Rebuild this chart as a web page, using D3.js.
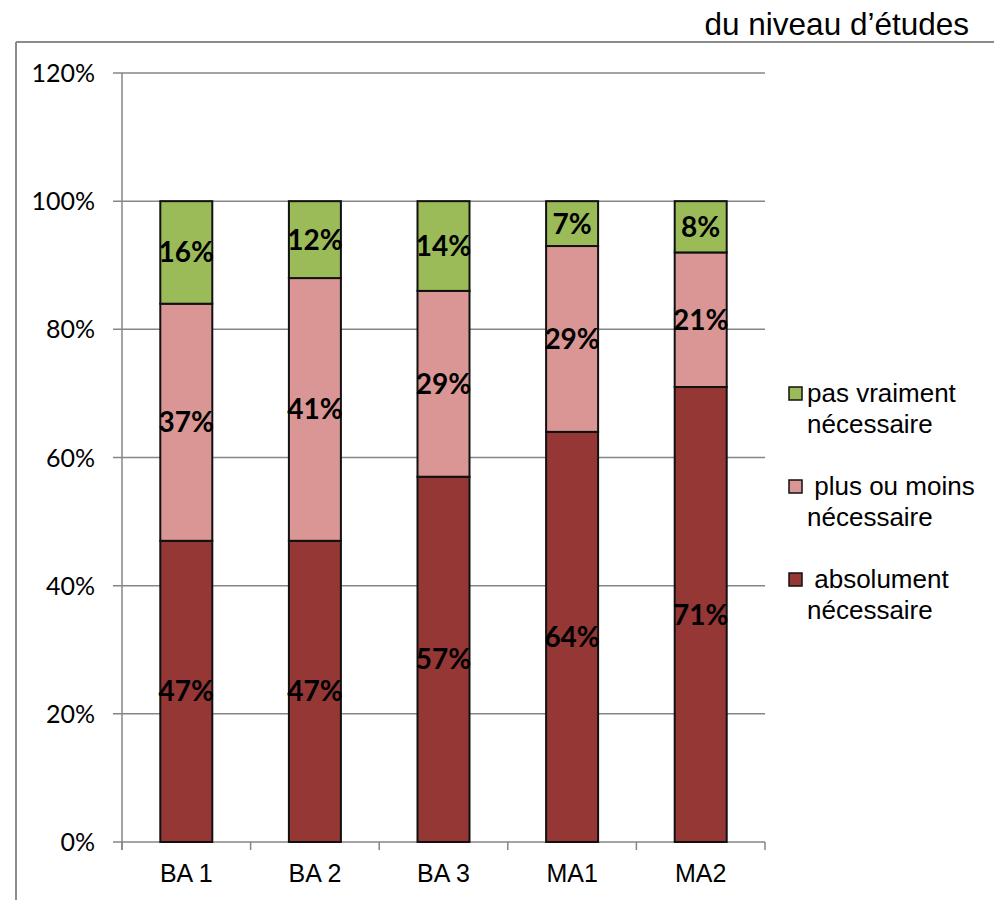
<!DOCTYPE html>
<html>
<head>
<meta charset="utf-8">
<script src="https://cdn.jsdelivr.net/npm/d3@7"></script>
<style>
  html, body { margin: 0; padding: 0; background: #fff; }
  svg { display: block; }
</style>
</head>
<body>
<svg id="chart" width="994" height="900"></svg>
<script>
// Niveaux d'études (catégories)
const categories = ["BA 1", "BA 2", "BA 3", "MA1", "MA2"];
// Part des réponses par niveau, en %
const absolument = [47, 47, 57, 64, 71];
const plusOuMoins = [37, 41, 29, 29, 21];
const pasVraiment = [16, 12, 14, 7, 8];
const legendLines = [
  ["pas vraiment", "nécessaire"],
  [" plus ou moins", "nécessaire"],
  [" absolument", "nécessaire"]
];
const yTicks = [0, 20, 40, 60, 80, 100, 120];
const titleText = "du niveau d’études";

const colors = ["#953735", "#D99694", "#9BBB59"];
const sans = "'Liberation Sans', Arial, sans-serif";
const cal = "Lato, 'Open Sans', sans-serif";

const svg = d3.select("#chart");

// Cadre partiel (haut et gauche)
svg.append("line").attr("x1", 16).attr("x2", 994).attr("y1", 42).attr("y2", 42)
  .attr("stroke", "#8c8c8c").attr("stroke-width", 2);
svg.append("line").attr("x1", 16).attr("x2", 16).attr("y1", 42).attr("y2", 900)
  .attr("stroke", "#8c8c8c").attr("stroke-width", 2);

svg.append("text").attr("x", 969).attr("y", 35).attr("text-anchor", "end")
  .attr("font-family", sans).attr("font-size", 31.5)
  .attr("fill", "#000").text(titleText);

const plot = { left: 122, right: 765, top: 73, bottom: 842 };

const x = d3.scaleBand().domain(categories).range([plot.left, plot.right]).paddingInner(0).paddingOuter(0);
const y = d3.scaleLinear().domain([0, 120]).range([plot.bottom, plot.top]);

// Quadrillage horizontal
svg.append("g").selectAll("line").data(yTicks).join("line")
  .attr("x1", plot.left - 9).attr("x2", plot.right)
  .attr("y1", d => y(d)).attr("y2", d => y(d))
  .attr("stroke", "#868686").attr("stroke-width", 1.5);

// Axe vertical
svg.append("line").attr("x1", plot.left).attr("x2", plot.left)
  .attr("y1", plot.top).attr("y2", plot.bottom + 8)
  .attr("stroke", "#868686").attr("stroke-width", 1.5);

// Graduations de l'axe horizontal
const bounds = categories.map(c => x(c)).concat([plot.right]);
svg.append("g").selectAll("line").data(bounds).join("line")
  .attr("x1", d => d).attr("x2", d => d)
  .attr("y1", plot.bottom).attr("y2", plot.bottom + 8)
  .attr("stroke", "#868686").attr("stroke-width", 1.5);

// Étiquettes de l'axe Y
svg.append("g").selectAll("text").data(yTicks).join("text")
  .attr("x", 95).attr("y", d => y(d) + 9)
  .attr("text-anchor", "end")
  .attr("font-family", cal).attr("font-size", 25)
  .attr("fill", "#000").text(d => d + "%");

// Étiquettes de l'axe X
svg.append("g").selectAll("text").data(categories).join("text")
  .attr("x", d => x(d) + x.bandwidth() / 2).attr("y", 882)
  .attr("text-anchor", "middle")
  .attr("font-family", sans).attr("font-size", 25)
  .attr("fill", "#000").text(d => d);

// Barres empilées
const rows = categories.map((c, i) => ({ cat: c, a: absolument[i], p: plusOuMoins[i], v: pasVraiment[i] }));
const stacked = d3.stack().keys(["a", "p", "v"])(rows);
const barW = 52;

const layers = svg.append("g").selectAll("g").data(stacked).join("g")
  .attr("fill", (d, i) => colors[i]);

layers.selectAll("rect").data(d => d).join("rect")
  .attr("x", d => x(d.data.cat) + x.bandwidth() / 2 - barW / 2)
  .attr("width", barW)
  .attr("y", d => y(d[1]))
  .attr("height", d => y(d[0]) - y(d[1]))
  .attr("stroke", "#111").attr("stroke-width", 2);

// Valeurs dans les segments
layers.selectAll("text").data(d => d.map(s => ({ s, key: d.key }))).join("text")
  .attr("x", d => x(d.s.data.cat) + x.bandwidth() / 2)
  .attr("y", d => y((d.s[0] + d.s[1]) / 2) + 10)
  .attr("text-anchor", "middle")
  .attr("font-family", cal).attr("font-weight", "bold")
  .attr("font-size", 28).attr("fill", "#000")
  .text(d => d.s.data[d.key] + "%");

// Légende (ordre inverse de l'empilement)
const legend = svg.append("g");
const legendTop = [387, 480, 573];
[2, 1, 0].forEach((si, k) => {
  const g = legend.append("g");
  g.append("rect").attr("x", 789).attr("y", legendTop[k]).attr("width", 13).attr("height", 13)
    .attr("fill", colors[si]).attr("stroke", "#111").attr("stroke-width", 1.5);
  legendLines[k].forEach((t, j) => {
    g.append("text").attr("x", 807).attr("y", legendTop[k] + 15 + j * 31)
      .attr("font-family", sans).attr("font-size", 26)
      .attr("fill", "#000").style("white-space", "pre")
      .text(t);
  });
});
</script>
</body>
</html>
